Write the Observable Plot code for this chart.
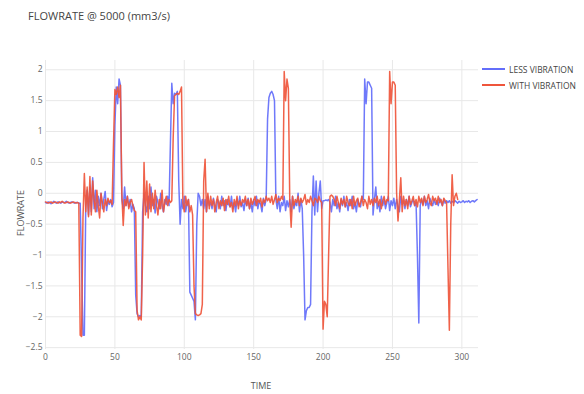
<!DOCTYPE html>
<html>
<head>
<meta charset="utf-8">
<script src="https://cdn.jsdelivr.net/npm/d3@7"></script>
<script src="https://cdn.jsdelivr.net/npm/@observablehq/plot@0.6"></script>
<style>
  html, body { margin: 0; padding: 0; background: #fff; }
  #wrap { position: relative; width: 584px; height: 394px; font-family: "Open Sans", "Noto Sans", sans-serif; color: #444; }
  #wrap svg { position: absolute; left: 0; top: 0; }
  .title { position: absolute; left: 28px; top: 8px; font-size: 11px; color: #444; white-space: nowrap; }
  .ylab { position: absolute; left: 20px; top: 213px; font-size: 9px; color: #555; transform: translate(-50%, -50%) rotate(-90deg); white-space: nowrap; }
  .xlab { position: absolute; left: 261px; top: 385px; font-size: 9px; color: #555; transform: translate(-50%, -50%); white-space: nowrap; }
  .legend { position: absolute; left: 482px; top: 61px; font-size: 8.5px; color: #444; }
  .legend div { display: flex; align-items: center; height: 16px; white-space: nowrap; }
  .legend span.sw { display: inline-block; width: 23px; height: 2px; margin-right: 4px; }
</style>
</head>
<body>
<div id="wrap">
  <div class="title" id="title"></div>
  <div class="ylab" id="ylab"></div>
  <div class="xlab" id="xlab"></div>
  <div class="legend" id="legend"></div>
</div>
<script>
const titleText = "FLOWRATE @ 5000 (mm3/s)";
const xTitle = "TIME";
const yTitle = "FLOWRATE";
const seriesNames = ["LESS VIBRATION", "WITH VIBRATION"];
const seriesColors = ["#636efa", "#ef553b"];
const xTicks = [0, 50, 100, 150, 200, 250, 300];
const yTicks = [-2.5, -2, -1.5, -1, -0.5, 0, 0.5, 1, 1.5, 2];

// LESS VIBRATION, one value per time step (t = 0, 1, 2, ...)
const lessVibration = [
  -0.15,-0.16,-0.14,-0.15,-0.17,-0.15,-0.13,-0.15,-0.16,-0.14,
  -0.15,-0.16,-0.14,-0.15,-0.15,-0.13,-0.15,-0.16,-0.15,-0.14,
  -0.15,-0.16,-0.15,-0.15,-0.16,-0.16,-1.2,-2.3,-2.3,-0.2,
  0.05,-0.35,0.1,-0.3,0.25,-0.25,0.05,-0.3,-0.05,-0.2,
  0.0,-0.25,-0.1,0.03,-0.28,-0.12,-0.18,-0.1,-0.22,-0.15,
  1.1,1.72,1.45,1.85,1.75,-0.1,-0.25,0.1,-0.2,-0.05,
  -0.22,-0.1,-0.3,-0.18,-0.25,-1.65,-1.95,-2.0,-1.98,-2.0,
  -0.3,0.0,-0.2,-0.3,-0.05,-0.25,0.1,-0.2,-0.1,-0.32,
  -0.05,-0.15,-0.25,0.0,-0.2,-0.3,-0.1,-0.18,-0.05,-0.2,
  0.8,1.78,1.45,1.62,1.6,1.65,0.2,-0.5,-0.1,-0.25,
  -0.05,-0.3,-0.15,-0.1,-1.6,-1.65,-1.7,-1.75,-2.05,-0.5,
  0.0,-0.05,-0.2,-0.1,-0.25,-0.1,-0.3,-0.05,-0.2,-0.15,
  -0.25,-0.08,-0.2,-0.3,-0.1,-0.15,-0.25,-0.05,-0.2,-0.12,
  -0.28,-0.1,-0.18,-0.22,-0.05,-0.25,-0.15,-0.3,-0.1,-0.2,
  -0.05,-0.22,-0.15,-0.28,-0.1,-0.2,-0.08,-0.25,-0.15,-0.3,
  -0.1,-0.2,-0.05,-0.25,-0.12,-0.18,-0.3,-0.08,-0.2,-0.1,
  1.2,1.55,1.62,1.65,1.6,1.5,-0.1,-0.25,-0.05,-0.3,
  -0.15,-0.2,-0.05,-0.28,-0.12,-0.22,-0.1,-0.3,-0.05,-0.25,
  -0.15,-0.2,0.0,-0.3,-0.1,-0.25,-1.0,-2.05,-1.9,-1.85,
  -1.85,-1.8,-0.3,0.28,-0.35,0.2,-0.3,0.0,0.2,-0.25,
  -0.12,-0.12,-0.11,-0.12,-0.1,-0.15,-0.3,-0.1,-0.2,-0.05,
  -0.25,-0.15,-0.3,-0.1,-0.2,-0.05,-0.22,-0.15,-0.28,-0.1,
  -0.2,-0.05,-0.25,-0.15,-0.3,-0.1,-0.18,-0.22,-0.05,-0.1,
  1.85,1.45,1.8,1.8,1.75,1.7,-0.35,-0.1,0.1,-0.25,
  -0.15,-0.3,-0.05,-0.2,-0.1,-0.25,-0.15,-0.05,-0.28,-0.12,
  -0.2,-0.08,-0.25,-0.1,-0.2,-0.3,-0.05,-0.18,-0.12,-0.25,
  -0.1,-0.2,-0.05,-0.22,-0.15,-0.1,-0.2,-0.15,-1.0,-2.1,
  -0.2,-0.1,-0.18,-0.05,-0.2,-0.12,-0.25,-0.08,-0.15,-0.2,
  -0.1,-0.18,-0.12,-0.2,-0.08,-0.15,-0.2,-0.1,-0.16,-0.12,
  -0.15,-0.12,-0.16,-0.13,-0.15,-0.12,-0.14,-0.16,-0.13,-0.15,
  -0.14,-0.12,-0.15,-0.13,-0.14,-0.12,-0.15,-0.13,-0.12,-0.14,
  -0.12,-0.1
];

// WITH VIBRATION, one value per time step (t = 0, 1, 2, ...)
const withVibration = [
  -0.14,-0.15,-0.16,-0.15,-0.14,-0.16,-0.15,-0.14,-0.15,-0.16,
  -0.14,-0.15,-0.13,-0.15,-0.16,-0.15,-0.14,-0.15,-0.16,-0.15,
  -0.14,-0.15,-0.16,-0.15,-0.16,-2.3,-2.32,-0.4,0.32,-0.3,
  0.1,-0.38,0.27,-0.35,0.2,-0.1,-0.3,0.05,-0.2,-0.4,
  0.0,-0.15,-0.3,-0.1,-0.2,-0.08,-0.15,-0.12,-0.18,0.8,
  1.68,1.6,1.72,1.55,1.75,0.0,-0.52,-0.1,-0.2,-0.05,
  -0.25,-0.15,-0.1,-0.2,-0.28,-0.3,-1.9,-2.05,-2.0,-2.05,
  -1.0,0.5,-0.35,0.2,-0.4,0.15,-0.3,0.0,-0.25,0.05,
  -0.2,-0.35,-0.1,-0.25,0.05,-0.3,-0.15,-0.05,-0.2,-0.1,
  -0.15,-0.12,0.9,1.58,1.6,1.62,1.6,1.65,1.72,-0.15,
  -0.3,-0.05,-0.2,-0.1,-0.3,-0.2,-0.35,-1.5,-1.95,-1.97,
  -1.98,-1.97,-1.95,-1.8,0.2,0.55,-0.3,0.0,-0.25,-0.05,
  -0.2,-0.1,-0.3,-0.15,-0.05,-0.25,-0.12,-0.2,-0.08,-0.28,
  -0.1,-0.18,-0.05,-0.22,-0.15,-0.3,-0.1,-0.2,-0.05,-0.25,
  -0.12,-0.2,-0.1,-0.15,-0.05,-0.2,-0.1,-0.25,-0.08,-0.18,
  -0.12,-0.05,-0.2,-0.1,-0.15,-0.08,-0.22,-0.1,-0.15,-0.05,
  -0.12,-0.08,-0.15,-0.05,-0.18,-0.1,-0.02,-0.15,-0.08,-0.12,
  -0.05,-0.1,1.97,1.5,1.85,1.7,-0.1,-0.55,-0.05,-0.2,
  -0.1,-0.15,-0.05,-0.2,-0.08,-0.15,-0.1,-0.02,-0.18,-0.1,
  -0.15,-0.05,-0.12,-0.2,-0.08,-0.1,-0.15,-0.05,-0.12,-0.15,
  -2.2,-1.75,-1.8,-2.0,-1.0,-0.05,-0.03,-0.05,-0.1,-0.2,
  -0.05,-0.15,-0.25,-0.08,-0.18,-0.1,-0.22,-0.05,-0.15,-0.2,
  -0.1,-0.25,-0.05,-0.2,-0.12,-0.08,-0.22,-0.15,-0.05,-0.2,
  -0.1,-0.15,-0.25,-0.05,-0.18,-0.1,-0.2,-0.08,-0.15,-0.05,
  -0.2,-0.1,-0.25,-0.12,-0.05,-0.18,-0.1,-0.12,1.97,1.45,
  1.8,1.8,1.75,0.0,-0.45,-0.1,0.25,-0.3,-0.05,-0.2,
  -0.1,-0.25,-0.05,-0.18,-0.12,-0.05,-0.2,-0.1,-0.22,-0.05,
  -0.15,-0.08,-0.2,-0.05,-0.15,-0.1,-0.02,-0.15,-0.2,-0.05,
  -0.12,-0.08,-0.18,-0.05,-0.15,-0.1,-0.2,-0.08,-0.12,-0.15,
  -1.2,-2.22,-0.5,0.3,-0.2,-0.05,0.0,-0.1
];

const toRows = (values, name) => values.map((v, i) => ({time: i, value: v, series: name}));
const rows = [
  ...toRows(lessVibration, seriesNames[0]),
  ...toRows(withVibration, seriesNames[1])
];

const fmt = d => String(d).replace("-", "\u2212");

const chart = Plot.plot({
  width: 584,
  height: 394,
  marginLeft: 45,
  marginRight: 106,
  marginTop: 60,
  marginBottom: 45,
  style: {fontFamily: '"Open Sans", "Noto Sans", sans-serif', fontSize: "8.5px", color: "#444", background: "transparent"},
  x: {domain: [0, 312], label: null},
  y: {domain: [-2.53, 2.15], label: null},
  color: {domain: seriesNames, range: seriesColors},
  marks: [
    Plot.gridX(xTicks, {stroke: "#e8e8e8", strokeOpacity: 1}),
    Plot.gridY(yTicks, {stroke: "#e8e8e8", strokeOpacity: 1}),
    Plot.axisX(xTicks, {tickSize: 0, tickPadding: 4, fill: "#666", label: null, tickFormat: fmt}),
    Plot.axisY(yTicks, {tickSize: 0, tickPadding: 3, fill: "#666", label: null, tickFormat: fmt}),
    Plot.lineY(rows, {x: "time", y: "value", z: "series", stroke: "series", strokeWidth: 1.5, strokeOpacity: 0.92, curve: "linear"})
  ]
});
document.getElementById("wrap").prepend(chart);

document.getElementById("title").textContent = titleText;
document.getElementById("xlab").textContent = xTitle;
document.getElementById("ylab").textContent = yTitle;
const legend = document.getElementById("legend");
seriesNames.forEach((name, i) => {
  const row = document.createElement("div");
  const sw = document.createElement("span");
  sw.className = "sw";
  sw.style.background = seriesColors[i];
  row.appendChild(sw);
  row.appendChild(document.createTextNode(name));
  legend.appendChild(row);
});
</script>
</body>
</html>
